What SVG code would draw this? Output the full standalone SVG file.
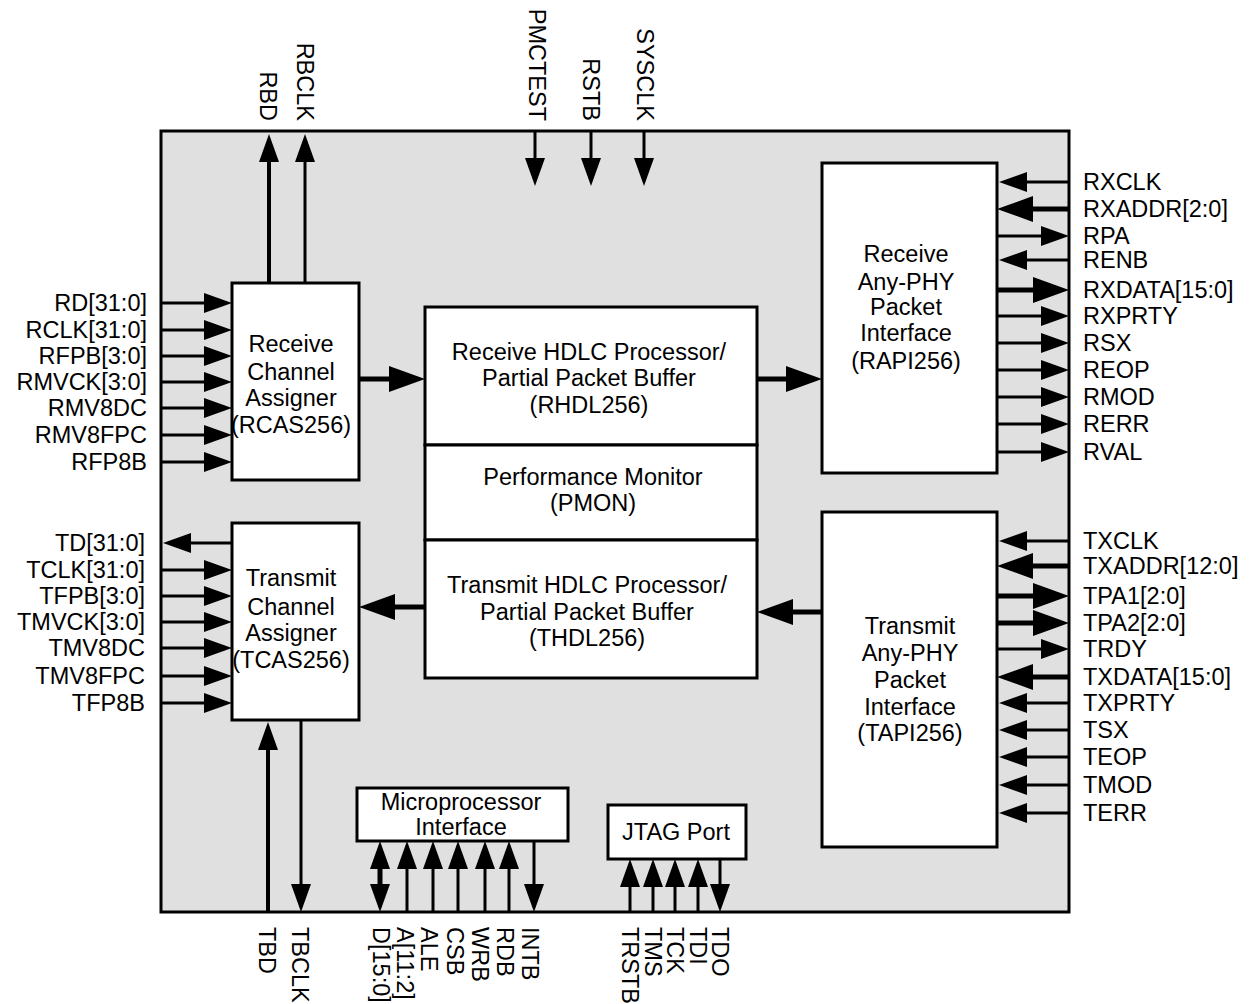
<svg xmlns="http://www.w3.org/2000/svg" width="1252" height="1004" viewBox="0 0 1252 1004">
<style>
text{font-family:"Liberation Sans",Arial,Helvetica,sans-serif;font-size:23.5px;fill:#000}
.blk{fill:#fff;stroke:#000;stroke-width:3}
.s{stroke:#000;stroke-width:3;fill:none}
.s.mk{marker-end:url(#a)}
.b{stroke:#000;stroke-width:5;fill:none;marker-end:url(#b)}
.m{text-anchor:middle}
.e{text-anchor:end}
</style>
<defs>
<marker id="a" markerUnits="userSpaceOnUse" markerWidth="28" markerHeight="20" viewBox="0 0 28 20" refX="0" refY="10" orient="auto-start-reverse" overflow="visible"><path d="M0,0 L28,10 L0,20 Z" fill="#000"/></marker>
<marker id="b" markerUnits="userSpaceOnUse" markerWidth="36" markerHeight="26" viewBox="0 0 36 26" refX="0" refY="13" orient="auto-start-reverse" overflow="visible"><path d="M0,0 L36,13 L0,26 Z" fill="#000"/></marker>
</defs>
<rect id="chip" x="161" y="131" width="908" height="781" fill="#e0e0e0" stroke="#000" stroke-width="3"/>

<g id="connectors">
<!-- top -->
<path class="s mk" d="M269,283 V162" style="stroke-width:4"/>
<path class="s mk" d="M305,283 V162"/>
<path class="s mk" d="M535,131 V158"/>
<path class="s mk" d="M591,131 V158"/>
<path class="s mk" d="M644,131 V158"/>
<!-- left receive -->
<path class="s mk" d="M161,303 H204"/>
<path class="s mk" d="M161,330 H204"/>
<path class="s mk" d="M161,356 H204"/>
<path class="s mk" d="M161,382 H204"/>
<path class="s mk" d="M161,408 H204"/>
<path class="s mk" d="M161,435 H204"/>
<path class="s mk" d="M161,462 H204"/>
<!-- left transmit -->
<path class="s mk" d="M232,543 H191"/>
<path class="s mk" d="M161,570 H204"/>
<path class="s mk" d="M161,596 H204"/>
<path class="s mk" d="M161,622 H204"/>
<path class="s mk" d="M161,648 H204"/>
<path class="s mk" d="M161,676 H204"/>
<path class="s mk" d="M161,703 H204"/>
<!-- center -->
<path class="b" d="M359,379 H389"/>
<path class="b" d="M757,379 H786"/>
<path class="b" d="M425,607 H395"/>
<path class="b" d="M822,612 H793"/>
<!-- right receive -->
<path class="s mk" d="M1069,182 H1027"/>
<path class="b" d="M1069,209 H1033"/>
<path class="s mk" d="M997,236 H1041"/>
<path class="s mk" d="M1069,260 H1027"/>
<path class="b" d="M997,290 H1033"/>
<path class="s mk" d="M997,316 H1041"/>
<path class="s mk" d="M997,343 H1041"/>
<path class="s mk" d="M997,370 H1041"/>
<path class="s mk" d="M997,397 H1041"/>
<path class="s mk" d="M997,424 H1041"/>
<path class="s mk" d="M997,452 H1041"/>
<!-- right transmit -->
<path class="s mk" d="M1069,541 H1027"/>
<path class="b" d="M1069,566 H1033"/>
<path class="b" d="M997,596 H1033"/>
<path class="b" d="M997,623 H1033"/>
<path class="s mk" d="M997,649 H1041"/>
<path class="b" d="M1069,677 H1033"/>
<path class="s mk" d="M1069,703 H1027"/>
<path class="s mk" d="M1069,730 H1027"/>
<path class="s mk" d="M1069,757 H1027"/>
<path class="s mk" d="M1069,785 H1027"/>
<path class="s mk" d="M1069,813 H1027"/>
<!-- bottom -->
<path class="s mk" d="M268,912 V750" style="stroke-width:4"/>
<path class="s mk" d="M301,720 V884"/>
<path class="s mk" d="M380,869 V884" style="stroke-width:5;marker-start:url(#a)"/>
<path class="s mk" d="M407,912 V869"/>
<path class="s mk" d="M433,912 V869"/>
<path class="s mk" d="M458,912 V869"/>
<path class="s mk" d="M485,912 V869"/>
<path class="s mk" d="M509,912 V869"/>
<path class="s mk" d="M534,841 V884"/>
<path class="s mk" d="M630,912 V887"/>
<path class="s mk" d="M653,912 V887"/>
<path class="s mk" d="M675,912 V887"/>
<path class="s mk" d="M698,912 V887"/>
<path class="s mk" d="M720,859 V884"/>
</g>

<g id="rcas"><rect class="blk" x="232" y="283" width="127" height="197"/>
<text class="m" x="291" y="352">Receive</text><text class="m" x="291" y="380">Channel</text><text class="m" x="291" y="406">Assigner</text><text class="m" x="291" y="433">(RCAS256)</text></g>
<g id="tcas"><rect class="blk" x="232" y="523" width="127" height="197"/>
<text class="m" x="291" y="586">Transmit</text><text class="m" x="291" y="615">Channel</text><text class="m" x="291" y="641">Assigner</text><text class="m" x="291" y="668">(TCAS256)</text></g>
<g id="rhdl"><rect class="blk" x="425" y="307" width="332" height="138"/>
<text class="m" x="589" y="360">Receive HDLC Processor/</text><text class="m" x="589" y="386">Partial Packet Buffer</text><text class="m" x="589" y="413">(RHDL256)</text></g>
<g id="pmon"><rect class="blk" x="425" y="445" width="332" height="95"/>
<text class="m" x="593" y="485">Performance Monitor</text><text class="m" x="593" y="511">(PMON)</text></g>
<g id="thdl"><rect class="blk" x="425" y="540" width="332" height="138"/>
<text class="m" x="587" y="593">Transmit HDLC Processor/</text><text class="m" x="587" y="620">Partial Packet Buffer</text><text class="m" x="587" y="646">(THDL256)</text></g>
<g id="rapi"><rect class="blk" x="822" y="163" width="175" height="310"/>
<text class="m" x="906" y="262">Receive</text><text class="m" x="906" y="290">Any-PHY</text><text class="m" x="906" y="315">Packet</text><text class="m" x="906" y="341">Interface</text><text class="m" x="906" y="369">(RAPI256)</text></g>
<g id="tapi"><rect class="blk" x="822" y="512" width="175" height="335"/>
<text class="m" x="910" y="634">Transmit</text><text class="m" x="910" y="661">Any-PHY</text><text class="m" x="910" y="688">Packet</text><text class="m" x="910" y="715">Interface</text><text class="m" x="910" y="741">(TAPI256)</text></g>
<g id="upi"><rect class="blk" x="357" y="788" width="211" height="53"/>
<text class="m" x="461" y="810">Microprocessor</text><text class="m" x="461" y="835">Interface</text></g>
<g id="jtag"><rect class="blk" x="608" y="805" width="138" height="54"/>
<text class="m" x="676" y="840">JTAG Port</text></g>

<g id="labels">
<g class="e">
<text x="147" y="311">RD[31:0]</text><text x="147" y="338">RCLK[31:0]</text><text x="147" y="364">RFPB[3:0]</text><text x="147" y="390">RMVCK[3:0]</text><text x="147" y="416">RMV8DC</text><text x="147" y="443">RMV8FPC</text><text x="147" y="470">RFP8B</text>
<text x="145" y="551">TD[31:0]</text><text x="145" y="578">TCLK[31:0]</text><text x="145" y="604">TFPB[3:0]</text><text x="145" y="630">TMVCK[3:0]</text><text x="145" y="656">TMV8DC</text><text x="145" y="684">TMV8FPC</text><text x="145" y="711">TFP8B</text>
<text transform="translate(259.6,121) rotate(90)">RBD</text>
<text transform="translate(296.6,121) rotate(90)">RBCLK</text>
<text transform="translate(528.6,121) rotate(90)">PMCTEST</text>
<text transform="translate(582.6,121) rotate(90)">RSTB</text>
<text transform="translate(636.6,121) rotate(90)">SYSCLK</text>
</g>
<text x="1083" y="190">RXCLK</text><text x="1083" y="217">RXADDR[2:0]</text><text x="1083" y="244">RPA</text><text x="1083" y="268">RENB</text><text x="1083" y="298">RXDATA[15:0]</text><text x="1083" y="324">RXPRTY</text><text x="1083" y="351">RSX</text><text x="1083" y="378">REOP</text><text x="1083" y="405">RMOD</text><text x="1083" y="432">RERR</text><text x="1083" y="460">RVAL</text>
<text x="1083" y="549">TXCLK</text><text x="1083" y="574">TXADDR[12:0]</text><text x="1083" y="604">TPA1[2:0]</text><text x="1083" y="631">TPA2[2:0]</text><text x="1083" y="657">TRDY</text><text x="1083" y="685">TXDATA[15:0]</text><text x="1083" y="711">TXPRTY</text><text x="1083" y="738">TSX</text><text x="1083" y="765">TEOP</text><text x="1083" y="793">TMOD</text><text x="1083" y="821">TERR</text>
<text transform="translate(258.6,927) rotate(90)">TBD</text>
<text transform="translate(291.6,927) rotate(90)">TBCLK</text>
<text transform="translate(372.6,927) rotate(90)">D[15:0]</text>
<text transform="translate(396.6,927) rotate(90)">A[11:2]</text>
<text transform="translate(420.6,927) rotate(90)">ALE</text>
<text transform="translate(446.6,927) rotate(90)">CSB</text>
<text transform="translate(471.6,927) rotate(90)">WRB</text>
<text transform="translate(496.6,927) rotate(90)">RDB</text>
<text transform="translate(521.6,927) rotate(90)">INTB</text>
<text transform="translate(621.6,927) rotate(90)">TRSTB</text>
<text transform="translate(644.6,927) rotate(90)">TMS</text>
<text transform="translate(666.6,927) rotate(90)">TCK</text>
<text transform="translate(689.6,927) rotate(90)">TDI</text>
<text transform="translate(711.6,927) rotate(90)">TDO</text>
</g>
</svg>
